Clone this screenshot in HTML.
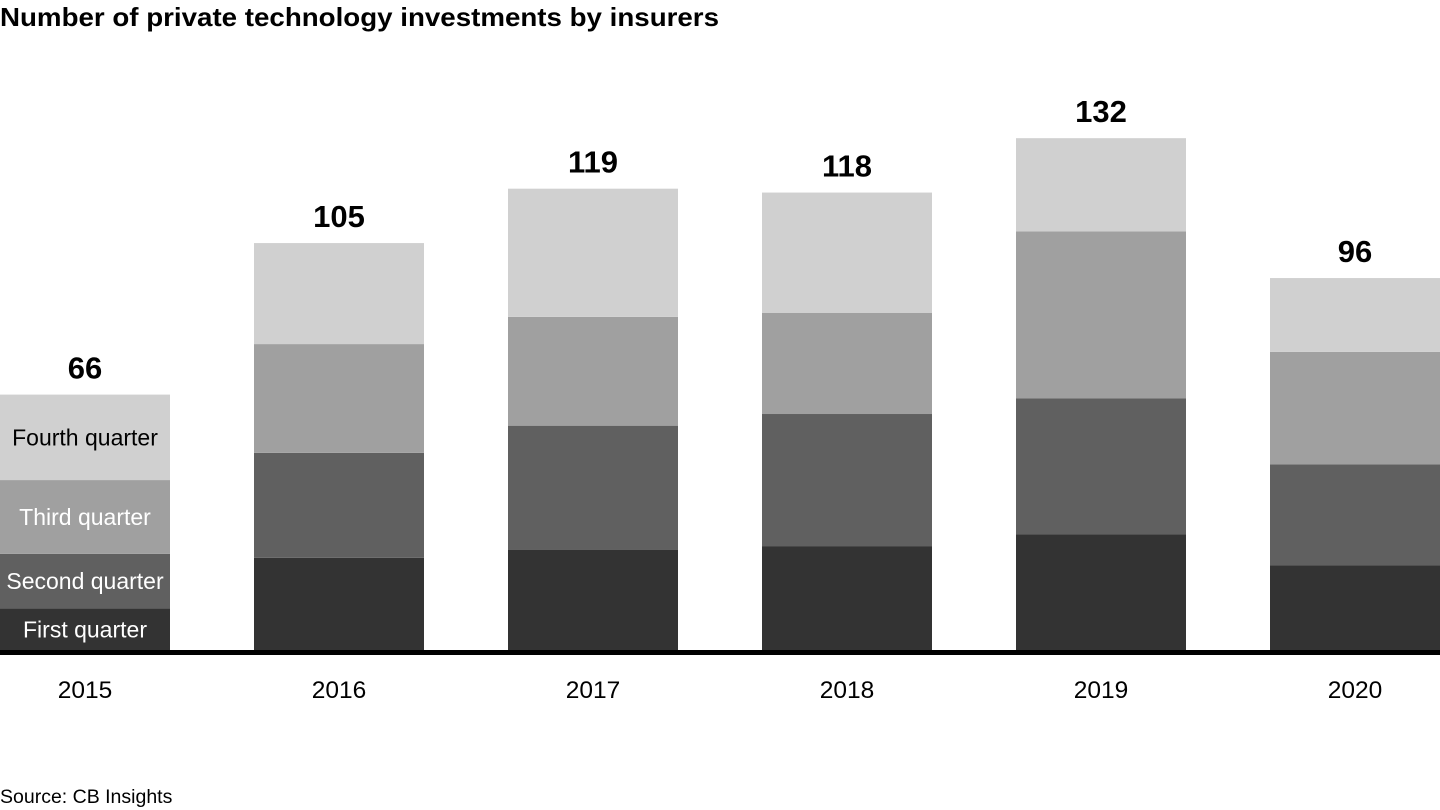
<!DOCTYPE html>
<html><head><meta charset="utf-8"><style>
body{margin:0;width:1440px;height:810px;background:#fff;overflow:hidden;font-family:"Liberation Sans",Arial,sans-serif}
svg{display:block}
</style></head><body>
<svg id="chart" width="1440" height="810">
<text x="0" y="26" font-size="26" font-weight="bold" fill="#000" textLength="719" lengthAdjust="spacingAndGlyphs">Number of private technology investments by insurers</text>
<text x="0" y="803" font-size="19.5" fill="#000">Source: CB Insights</text>
</svg>
<script>
const years=["2015","2016","2017","2018","2019","2020"];
const q1=[11,24,26,27,30,22];
const q2=[14,27,32,34,35,26];
const q3=[19,28,28,26,43,29];
const q4=[22,26,33,31,24,19];
const totals=[66,105,119,118,132,96];
const seriesNames=["First quarter","Second quarter","Third quarter","Fourth quarter"];
const series=[q1,q2,q3,q4];
const colors=["#333333","#606060","#a0a0a0","#d0d0d0"];
const labelColors=["#fff","#fff","#fff","#000"];
const NS="http://www.w3.org/2000/svg";
const svg=document.getElementById('chart');
const base=651, scale=3.885, pitch=254, bw=170;
const x=i=>i*pitch;
const y=v=>base-v*scale;
function mk(t,a){const e=document.createElementNS(NS,t);for(const k in a)e.setAttribute(k,a[k]);svg.appendChild(e);return e;}
years.forEach((yr,i)=>{
  let cum=0;
  series.forEach((s,j)=>{
    const r=mk('rect',{x:x(i),y:y(cum+s[i]),width:i===5?1440-x(i):bw,height:s[i]*scale,fill:colors[j]});
    
    
    if(i===0){
      const t=mk('text',{x:x(i)+bw/2,y:y(cum+s[i]/2)+8,'font-size':23,'text-anchor':'middle',fill:labelColors[j]});
      t.textContent=seriesNames[j];
      
      
    }
    cum+=s[i];
  });
  const tv=mk('text',{x:x(i)+bw/2,y:y(totals[i])-16,'font-size':31,'font-weight':'bold','text-anchor':'middle',fill:'#000'});
  tv.textContent=totals[i];
  
  
  const ty=mk('text',{x:x(i)+bw/2,y:698,'font-size':24.5,'text-anchor':'middle',fill:'#000'});
  ty.textContent=yr;
  
  
});
const ax=mk('rect',{x:0,y:base-1,width:1440,height:5,fill:'#000'});


</script>
</body></html>
